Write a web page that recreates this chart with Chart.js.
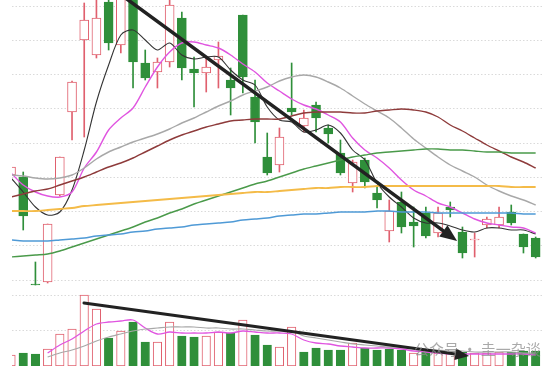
<!DOCTYPE html>
<html>
<head>
<meta charset="utf-8">
<script src="https://cdn.jsdelivr.net/npm/chart.js@4.4.1/dist/chart.umd.min.js"></script>
<style>
  html, body { margin: 0; padding: 0; background: #fff; }
  #wrap { position: relative; width: 554px; height: 371px; overflow: hidden; background: #fff; }
  #priceChart { position: absolute; left: 0; top: 0; }
  #volChart { position: absolute; left: 0; top: 292px; }
  #mark {
    position: absolute; left: 414px; top: 339px;
    font: 15px 'Noto Sans CJK SC', sans-serif; line-height: 20px;
    color: rgba(140, 140, 140, 0.75); white-space: nowrap;
  }
</style>
</head>
<body>
<div id="wrap">
  <canvas id="priceChart" width="554" height="292"></canvas>
  <canvas id="volChart" width="554" height="79"></canvas>
  <div id="mark">公众号 · 圭一杂谈</div>
</div>
<script>
// --- données (44 séances) ---
const openP  = [16.25, 16.15, 10.80, 10.90, 15.25, 19.40, 23.00, 22.25, 24.90, 22.75, 25.10, 21.85, 21.40, 21.90, 24.10, 21.55, 21.35, 22.00, 21.00, 24.25, 20.15, 17.15, 16.75, 19.60, 18.70, 19.75, 18.60, 17.35, 15.85, 17.00, 15.35, 13.45, 14.90, 13.90, 14.35, 13.35, 14.65, 13.40, 13.00, 13.75, 13.75, 14.40, 13.30, 13.10];
const closeP = [16.65, 14.20, 10.75, 13.80, 17.15, 20.90, 24.00, 24.10, 22.85, 25.10, 21.90, 21.10, 21.90, 24.75, 21.60, 21.35, 21.65, 22.20, 20.60, 21.15, 18.90, 16.35, 18.15, 19.40, 19.10, 19.10, 18.30, 16.35, 16.90, 15.90, 15.00, 14.45, 13.65, 13.70, 13.20, 14.35, 14.50, 12.35, 13.05, 14.05, 14.15, 13.85, 12.65, 12.15];
const highP  = [16.85, 16.40, 11.90, 13.80, 17.15, 20.95, 24.85, 25.20, 25.15, 25.30, 25.30, 22.50, 22.10, 25.10, 24.40, 22.15, 22.10, 22.90, 21.60, 24.25, 21.00, 18.35, 18.60, 21.85, 19.50, 19.90, 18.75, 18.00, 17.00, 17.10, 15.65, 15.00, 15.40, 14.65, 14.65, 14.65, 14.90, 13.65, 13.35, 14.15, 14.65, 14.75, 13.30, 13.15];
const lowP   = [16.10, 13.50, 10.75, 10.85, 15.20, 18.00, 18.15, 22.10, 22.50, 22.35, 20.60, 21.00, 20.60, 21.65, 21.00, 19.65, 20.40, 20.60, 19.25, 20.35, 17.85, 16.25, 16.40, 19.25, 18.40, 18.40, 17.85, 16.25, 15.40, 15.60, 14.60, 12.90, 13.35, 12.65, 13.10, 13.15, 14.15, 12.10, 12.15, 13.60, 13.60, 13.75, 12.35, 12.10];

const ma5   = [16.10, 15.40, 14.65, 14.25, 14.40, 15.50, 17.50, 19.90, 21.75, 23.25, 23.50, 23.00, 22.50, 22.85, 22.25, 22.05, 22.15, 22.15, 21.50, 21.00, 20.75, 19.65, 19.00, 18.90, 18.40, 18.50, 18.75, 18.35, 17.50, 17.00, 15.85, 15.15, 14.65, 14.10, 13.85, 13.85, 13.70, 13.50, 13.40, 13.60, 13.60, 13.50, 13.50, 13.30];
const ma10  = [16.35, 15.75, 15.40, 15.20, 15.15, 15.40, 16.60, 17.40, 18.50, 19.10, 19.60, 20.65, 21.65, 22.40, 22.85, 22.90, 22.75, 22.60, 22.25, 21.80, 21.40, 20.85, 20.45, 20.05, 19.75, 19.55, 19.25, 18.90, 18.10, 17.50, 17.10, 16.60, 16.00, 15.50, 15.20, 14.85, 14.65, 14.35, 14.05, 13.85, 13.75, 13.65, 13.60, 13.35];
const ma20  = [16.25, 16.20, 16.10, 16.05, 16.10, 16.25, 16.60, 17.05, 17.40, 17.65, 17.90, 18.10, 18.30, 18.55, 18.85, 19.10, 19.40, 19.70, 19.95, 20.25, 20.45, 20.65, 20.95, 21.15, 21.25, 21.15, 20.90, 20.60, 20.20, 19.80, 19.45, 19.10, 18.60, 18.05, 17.60, 17.15, 16.75, 16.45, 16.15, 15.75, 15.45, 15.20, 15.00, 14.75];
const ma30  = [15.15, 15.30, 15.45, 15.55, 15.75, 15.95, 16.15, 16.40, 16.65, 16.85, 17.10, 17.40, 17.70, 18.00, 18.25, 18.45, 18.65, 18.80, 18.95, 19.00, 19.05, 19.05, 19.05, 19.20, 19.35, 19.40, 19.40, 19.40, 19.35, 19.35, 19.45, 19.50, 19.55, 19.50, 19.40, 19.15, 18.75, 18.45, 18.10, 17.75, 17.45, 17.15, 16.90, 16.60];
const ma60  = [12.15, 12.20, 12.25, 12.30, 12.45, 12.65, 12.85, 13.05, 13.25, 13.45, 13.65, 13.90, 14.10, 14.35, 14.55, 14.80, 15.00, 15.20, 15.40, 15.60, 15.80, 15.95, 16.15, 16.35, 16.55, 16.70, 16.85, 17.00, 17.15, 17.25, 17.35, 17.40, 17.45, 17.50, 17.55, 17.55, 17.50, 17.50, 17.45, 17.40, 17.40, 17.35, 17.35, 17.35];
const ma120 = [14.45, 14.45, 14.45, 14.50, 14.55, 14.60, 14.70, 14.75, 14.80, 14.85, 14.90, 14.95, 15.00, 15.05, 15.10, 15.15, 15.20, 15.25, 15.30, 15.35, 15.40, 15.40, 15.45, 15.50, 15.55, 15.60, 15.60, 15.65, 15.65, 15.65, 15.70, 15.70, 15.70, 15.70, 15.70, 15.70, 15.70, 15.70, 15.70, 15.70, 15.70, 15.65, 15.65, 15.65];
const ma250 = [13.00, 12.95, 12.95, 12.95, 13.00, 13.05, 13.10, 13.20, 13.25, 13.30, 13.40, 13.45, 13.55, 13.60, 13.65, 13.75, 13.80, 13.85, 13.90, 14.00, 14.05, 14.10, 14.20, 14.25, 14.30, 14.30, 14.35, 14.40, 14.40, 14.40, 14.45, 14.45, 14.40, 14.40, 14.40, 14.35, 14.35, 14.35, 14.35, 14.35, 14.35, 14.35, 14.30, 14.30];

// volume (万手), 1 = barre rouge, 0 = barre verte
const volume = [5.5, 6.5, 6, 8.5, 16, 18.5, 35.5, 28.5, 14, 17.5, 22, 12, 12, 22, 15, 14.5, 15, 17, 16.5, 23, 15.5, 10.5, 9.5, 19.5, 7, 9, 8, 8, 11.5, 9, 8, 8.5, 8, 6.5, 7, 6.5, 6.5, 7, 6.5, 6.5, 7, 7, 7.5, 7.5];
const volUp  = [1, 0, 0, 1, 1, 1, 1, 1, 0, 1, 0, 0, 1, 1, 0, 0, 1, 1, 0, 1, 0, 0, 1, 1, 0, 0, 0, 0, 1, 0, 0, 0, 0, 1, 0, 1, 1, 0, 1, 1, 1, 0, 0, 0];
const volMa5  = [null, null, null, 6.5, 10.5, 13.5, 17.5, 21, 22, 22.5, 23, 19, 16, 17, 16.5, 16.5, 16.5, 17, 16.5, 17.5, 17, 16.5, 16.5, 16, 13, 11.5, 11, 10, 9.5, 9, 9, 9, 8.5, 7.5, 7, 6.5, 6, 6, 6, 6, 6, 6, 6, 5.5];
const volMa10 = [null, null, null, 4.5, 6.5, 8, 10, 12.5, 14.5, 16, 17.5, 18.5, 19, 19.5, 19.5, 19.5, 19, 19, 18.5, 18.5, 18, 17.5, 17.5, 17.5, 15, 14, 13, 12, 11, 10.5, 10, 9.5, 9.5, 9, 8.5, 8, 7.5, 7.5, 7, 7, 7, 7, 6.5, 6.5];

// lignes de grille (valeurs de l'axe)
const priceGrid = [11.0, 12.71, 14.43, 16.14, 17.85, 19.56, 21.28, 22.99, 24.7];
const volGrid = [17.5, 35.5];

// flèches de tendance (séance, valeur)
const priceArrow = { from: [8.93, 25.30], to: [36.56, 12.95] };
const volArrow = { from: [5.98, 31.5], to: [37.54, 5.0] };

const days = openP.map((_, i) => i);

const RED = '#e0606e';
const GREEN = '#2f8f3a';
const GRID = '#dadada';

const isUp = i => closeP[i] >= openP[i];

function lineSet(values, color, width) {
  return {
    type: 'line',
    data: values.map((v, i) => ({ x: i, y: v })),
    borderColor: color,
    borderWidth: width,
    pointRadius: 0,
    tension: 0.3,
    fill: false,
    clip: 0,
    order: 1
  };
}

function arrowPlugin(arrow, yId, lineW, headLen, headHalf) {
  return {
    id: 'arrow_' + yId,
    afterDatasetsDraw(chart) {
      const ctx = chart.ctx;
      const sx = chart.scales.x, sy = chart.scales[yId];
      const x1 = sx.getPixelForValue(arrow.from[0]);
      const y1 = sy.getPixelForValue(arrow.from[1]);
      const x2 = sx.getPixelForValue(arrow.to[0]);
      const y2 = sy.getPixelForValue(arrow.to[1]);
      const a = Math.atan2(y2 - y1, x2 - x1);
      const bx = x2 - headLen * Math.cos(a);
      const by = y2 - headLen * Math.sin(a);

      ctx.save();
      ctx.strokeStyle = '#222';
      ctx.fillStyle = '#222';
      ctx.lineWidth = lineW;
      ctx.lineCap = 'round';
      ctx.beginPath();
      ctx.moveTo(x1, y1);
      ctx.lineTo(bx, by);
      ctx.stroke();

      ctx.beginPath();
      ctx.moveTo(x2, y2);
      ctx.lineTo(bx + headHalf * Math.sin(a), by - headHalf * Math.cos(a));
      ctx.lineTo(bx - headHalf * Math.sin(a), by + headHalf * Math.cos(a));
      ctx.closePath();
      ctx.fill();
      ctx.restore();
    }
  };
}

const xScale = { type: 'linear', min: 0.08, max: 43.52, offset: false, display: false };

function gridScale(min, max, values) {
  return {
    type: 'linear',
    min: min,
    max: max,
    beginAtZero: false,
    afterBuildTicks: axis => { axis.ticks = values.map(v => ({ value: v })); },
    ticks: { display: false },
    grid: { color: GRID, lineWidth: 1, drawTicks: false },
    border: { display: false, dash: [1.5, 2] }
  };
}

const commonOptions = {
  responsive: false,
  animation: false,
  devicePixelRatio: 1,
  plugins: { legend: { display: false }, tooltip: { enabled: false } },
  events: []
};

// --- graphique des cours ---
new Chart(document.getElementById('priceChart').getContext('2d'), {
  type: 'bar',
  data: {
    datasets: [
      {
        type: 'bar',
        data: days.map(i => ({ x: i, y: [lowP[i], highP[i]] })),
        backgroundColor: days.map(i => isUp(i) ? RED : GREEN),
        borderWidth: 0,
        barThickness: 1,
        grouped: false,
        clip: 0,
        order: 3
      },
      {
        type: 'bar',
        data: days.map(i => ({ x: i, y: [openP[i], closeP[i]] })),
        backgroundColor: days.map(i => isUp(i) ? '#ffffff' : GREEN),
        borderColor: days.map(i => isUp(i) ? RED : GREEN),
        borderWidth: 1,
        borderSkipped: false,
        barThickness: 9,
        grouped: false,
        clip: 0,
        order: 2
      },
      lineSet(ma250, '#4f9ad6', 1.5),
      lineSet(ma120, '#f4bb48', 1.8),
      lineSet(ma60, '#4a9a4a', 1.4),
      lineSet(ma30, '#8e3b3b', 1.4),
      lineSet(ma20, '#a8a8a8', 1.4),
      lineSet(ma10, '#e055e0', 1.4),
      lineSet(ma5, '#333333', 1.1)
    ]
  },
  options: Object.assign({}, commonOptions, {
    layout: { padding: { left: 12, right: 12, top: 0, bottom: 0 } },
    scales: { x: xScale, y: gridScale(10.4, 25.0, priceGrid) }
  }),
  plugins: [arrowPlugin(priceArrow, 'y', 3.5, 17, 7)]
});

// --- graphique des volumes ---
new Chart(document.getElementById('volChart').getContext('2d'), {
  type: 'bar',
  data: {
    datasets: [
      {
        type: 'bar',
        data: days.map(i => ({ x: i, y: volume[i] })),
        backgroundColor: days.map(i => volUp[i] ? '#ffffff' : GREEN),
        borderColor: days.map(i => volUp[i] ? RED : GREEN),
        borderWidth: 1,
        borderSkipped: false,
        barThickness: 8.5,
        grouped: false,
        clip: 0,
        order: 2
      },
      lineSet(volMa10, '#a8a8a8', 1.2),
      lineSet(volMa5, '#e055e0', 1.3)
    ]
  },
  options: Object.assign({}, commonOptions, {
    layout: { padding: { left: 12, right: 12, top: 0, bottom: 5 } },
    scales: { x: xScale, y: gridScale(0, 37, volGrid) }
  }),
  plugins: [arrowPlugin(volArrow, 'y', 3, 14, 6)]
});
</script>
</body>
</html>
